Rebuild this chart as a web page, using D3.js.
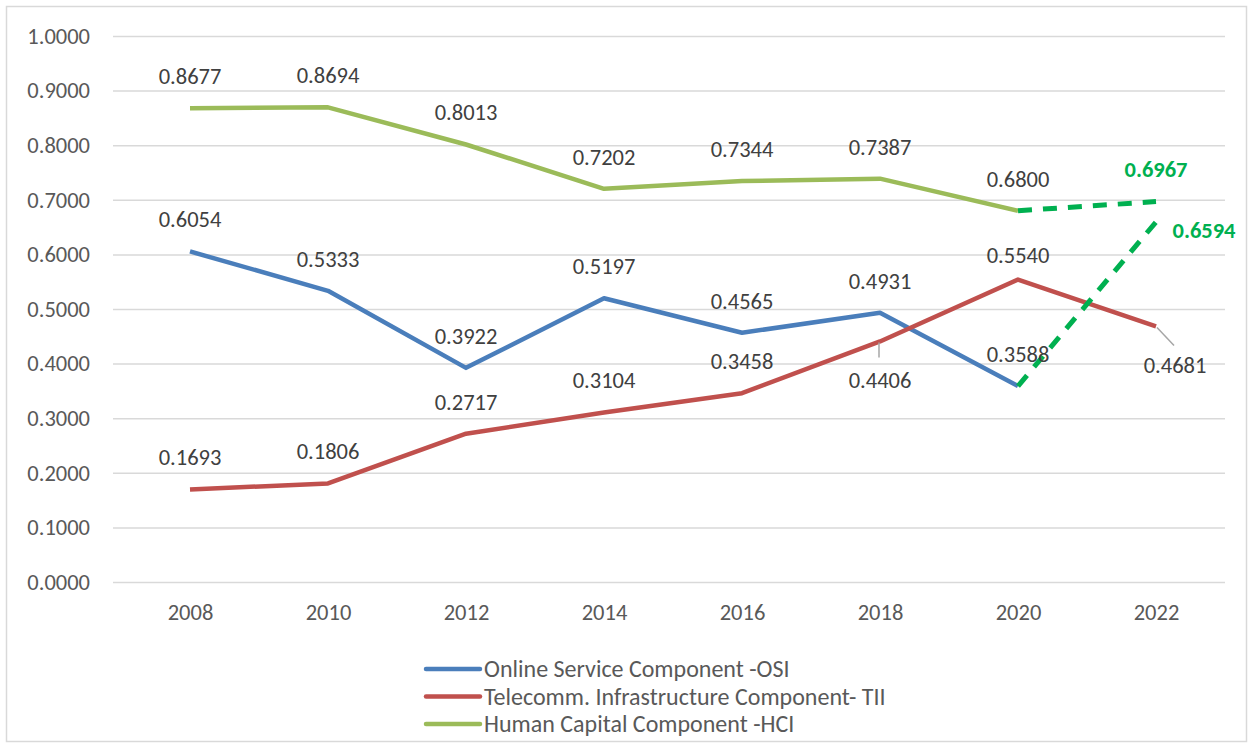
<!DOCTYPE html>
<meta charset="utf-8">
<head>
<script src="https://d3js.org/d3.v7.min.js"></script>
<style>
  body { margin: 0; background: #fff; }
  svg text { font-family: Carlito, Lato, "Liberation Sans", sans-serif; }
</style>
</head>
<body>
<svg id="chart" width="1253" height="747"></svg>

<script>
// data
var years = ["2008", "2010", "2012", "2014", "2016", "2018", "2020", "2022"];
var osi = [0.6054, 0.5333, 0.3922, 0.5197, 0.4565, 0.4931, 0.3588, null];
var tii = [0.1693, 0.1806, 0.2717, 0.3104, 0.3458, 0.4406, 0.5540, 0.4681];
var hci = [0.8677, 0.8694, 0.8013, 0.7202, 0.7344, 0.7387, 0.6800, null];
// 2022 projections (green dashed)
var osiProj = 0.6594;
var hciProj = 0.6967;
var yTicks = [0, 0.1, 0.2, 0.3, 0.4, 0.5, 0.6, 0.7, 0.8, 0.9, 1.0];
var seriesNames = ["Online Service Component -OSI", "Telecomm. Infrastructure Component- TII", "Human Capital Component -HCI"];

var svg = d3.select("#chart");

// frame
svg.append("rect")
  .attr("x", 6.5).attr("y", 6.5)
  .attr("width", 1240).attr("height", 735)
  .attr("fill", "none").attr("stroke", "#d9d9d9").attr("stroke-width", 1.5);

var x = d3.scalePoint().domain(years).range([121, 1225]).padding(0.5);
var y = d3.scaleLinear().domain([0, 1]).range([582, 36]);

// y axis + gridlines
var yAxis = svg.append("g")
  .attr("transform", "translate(113,0)")
  .call(d3.axisLeft(y).tickValues(yTicks).tickSize(-(1225 - 113)).tickPadding(23).tickFormat(d3.format(".4f")));
yAxis.select(".domain").remove();
yAxis.selectAll("line").attr("stroke", "#d9d9d9").attr("stroke-width", 1.5);
yAxis.selectAll("text").attr("fill", "#595959").style("font-size", "22.5px");

// x axis labels
var xAxis = svg.append("g")
  .attr("transform", "translate(0,582)")
  .call(d3.axisBottom(x).tickSize(0).tickPadding(22));
xAxis.select(".domain").remove();
xAxis.selectAll("text").attr("fill", "#595959").style("font-size", "22.5px");

var line = d3.line()
  .defined(function (d) { return d.v != null; })
  .x(function (d) { return x(d.year); })
  .y(function (d) { return y(d.v); });

function pts(arr) {
  return arr.map(function (v, i) { return { year: years[i], v: v }; });
}

var colors = ["#4a7ebb", "#c0504d", "#9bbb59"];
var all = [osi, tii, hci];

all.forEach(function (arr, k) {
  svg.append("path")
    .datum(pts(arr))
    .attr("d", line)
    .attr("fill", "none")
    .attr("stroke", colors[k])
    .attr("stroke-width", 4.5)
    .attr("stroke-linejoin", "round");
});

// projections, dashed green
var proj = [
  [{ year: "2020", v: osi[6] }, { year: "2022", v: osiProj }],
  [{ year: "2020", v: hci[6] }, { year: "2022", v: hciProj }]
];
proj.forEach(function (p) {
  svg.append("path")
    .datum(p)
    .attr("d", line)
    .attr("fill", "none")
    .attr("stroke", "#00b050")
    .attr("stroke-width", 5)
    .attr("stroke-dasharray", "14,11");
});

// data labels; default is centred ~32px above the point
var labelShift = {
  "1-6": [0, -24],
  "1-5": [0, 39],
  "1-7": [19, 39]
};
all.forEach(function (arr, k) {
  arr.forEach(function (v, i) {
    if (v == null) return;
    var s = labelShift[k + "-" + i] || [0, -32];
    svg.append("text")
      .attr("x", x(years[i]) + s[0])
      .attr("y", y(v) + s[1])
      .attr("dy", "0.35em")
      .attr("text-anchor", "middle")
      .attr("fill", "#404040")
      .style("font-size", "22.5px")
      .text(d3.format(".4f")(v));
  });
});

// leader lines
svg.append("line")
  .attr("x1", x("2018") - 1).attr("y1", y(tii[5]) + 1)
  .attr("x2", x("2018") - 1).attr("y2", y(tii[5]) + 16)
  .attr("stroke", "#a6a6a6").attr("stroke-width", 1.5);
svg.append("line")
  .attr("x1", x("2022") + 1).attr("y1", y(tii[7]) + 1)
  .attr("x2", x("2022") + 18).attr("y2", y(tii[7]) + 19)
  .attr("stroke", "#a6a6a6").attr("stroke-width", 1.5);

// projection labels
svg.append("text")
  .attr("x", x("2022")).attr("y", y(hciProj) - 32).attr("dy", "0.35em")
  .attr("text-anchor", "middle").attr("fill", "#00b050")
  .style("font-size", "22.5px").style("font-weight", "bold")
  .text(d3.format(".4f")(hciProj));
svg.append("text")
  .attr("x", x("2022") + 48).attr("y", y(osiProj) + 8).attr("dy", "0.35em")
  .attr("text-anchor", "middle").attr("fill", "#00b050")
  .style("font-size", "22.5px").style("font-weight", "bold")
  .text(d3.format(".4f")(osiProj));

// legend
var legend = svg.append("g").attr("transform", "translate(426,669)");
seriesNames.forEach(function (name, k) {
  var g = legend.append("g").attr("transform", "translate(0," + (k * 27.5) + ")");
  g.append("line")
    .attr("x1", 0).attr("x2", 54)
    .attr("stroke", colors[k]).attr("stroke-width", 4.5).attr("stroke-linecap", "round");
  g.append("text")
    .attr("x", 58).attr("dy", "0.35em")
    .attr("fill", "#595959")
    .style("font-size", "24px")
    .text(name);
});
</script>
</body>
